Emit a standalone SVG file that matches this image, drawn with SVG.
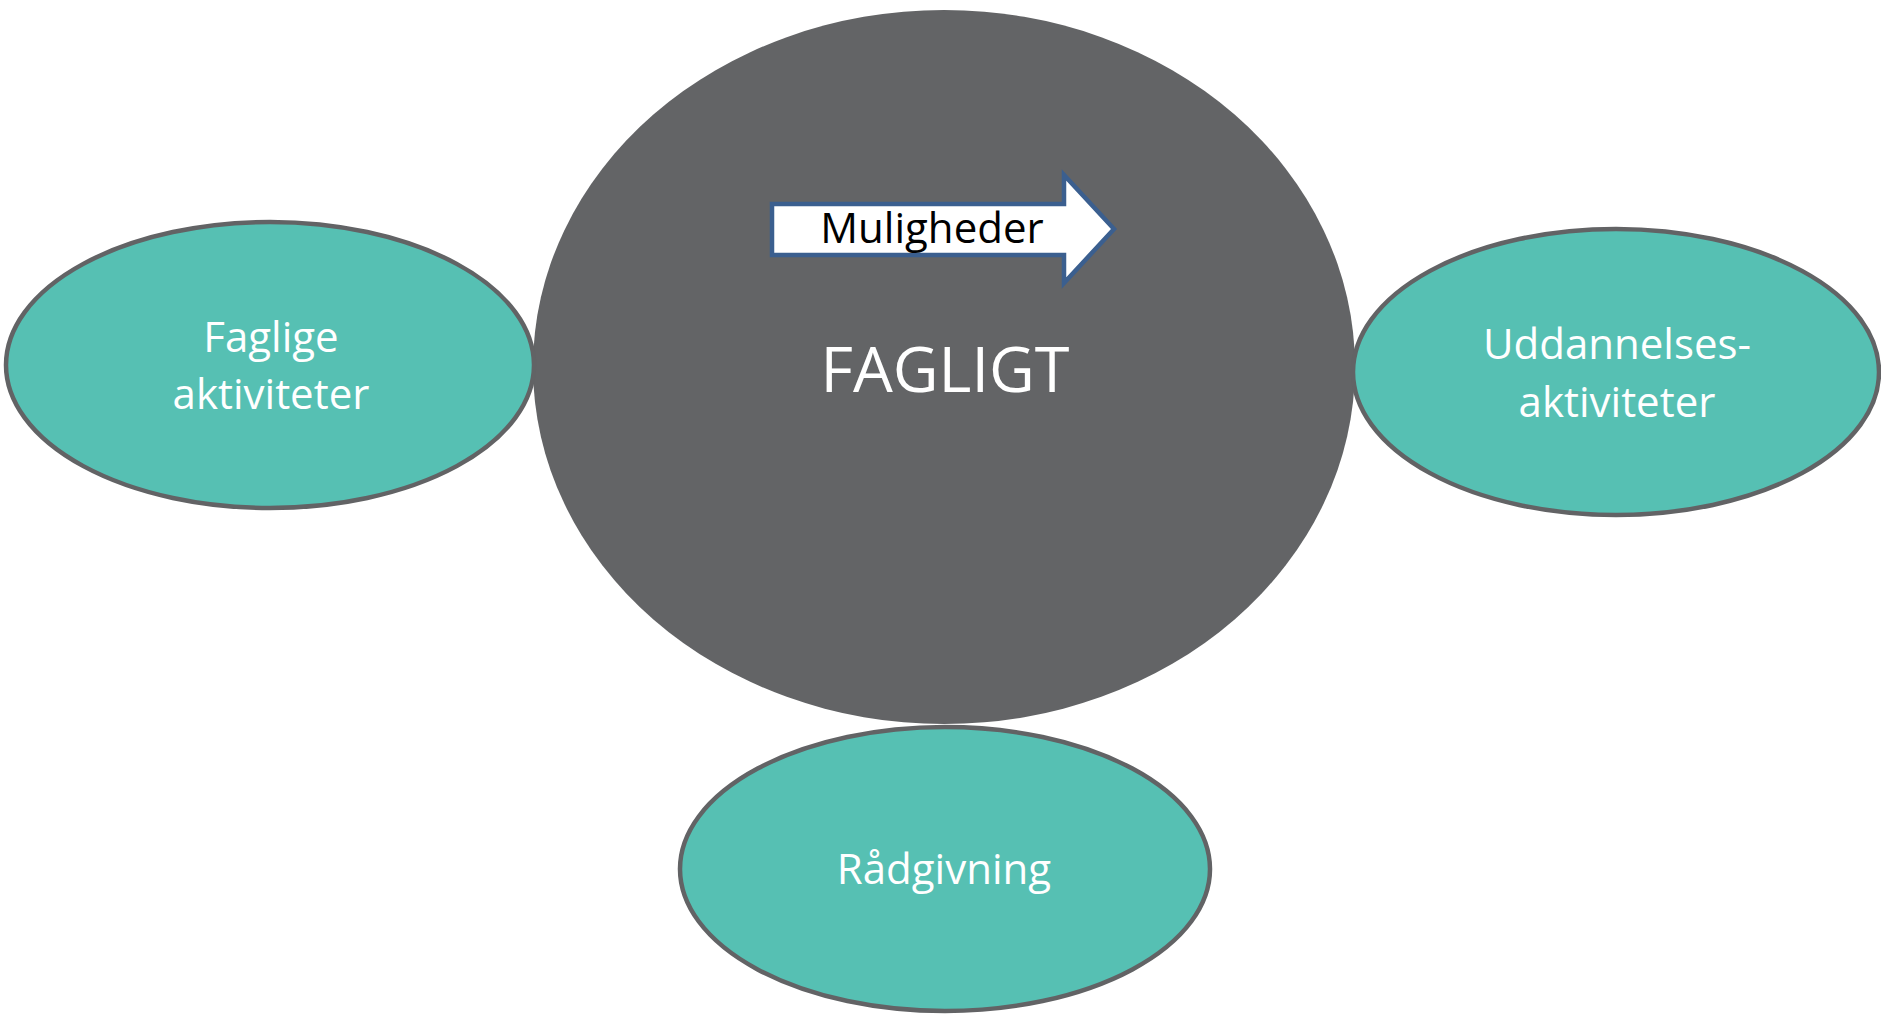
<svg xmlns="http://www.w3.org/2000/svg" width="1881" height="1014" viewBox="0 0 1881 1014">
<style>
.bub{fill:#56c0b3;stroke:#626365;stroke-width:4.5}
.lbl{font-family:"Open Sans","Liberation Sans",sans-serif;fill:#ffffff;text-anchor:middle}
</style>
<rect x="0" y="0" width="1881" height="1014" fill="#ffffff"/>
<g id="node-fagligt">
<ellipse cx="944" cy="367" rx="411" ry="357" fill="#636466"/>
<text class="lbl" x="945" y="392" font-size="63">FAGLIGT</text>
</g>
<g id="node-faglige">
<ellipse class="bub" cx="270" cy="365" rx="264" ry="143"/>
<text class="lbl" x="271" y="352" font-size="42">Faglige</text>
<text class="lbl" x="271" y="409" font-size="42">aktiviteter</text>
</g>
<g id="node-uddannelses">
<ellipse class="bub" cx="1616" cy="372" rx="263" ry="143"/>
<text class="lbl" x="1617" y="359" font-size="42">Uddannelses-</text>
<text class="lbl" x="1617" y="417" font-size="42">aktiviteter</text>
</g>
<g id="node-raadgivning">
<ellipse class="bub" cx="945" cy="869" rx="265" ry="142"/>
<text class="lbl" x="944" y="884" font-size="42">Rådgivning</text>
</g>
<g id="connectors">
<g id="arrow-muligheder">
<polygon points="772,204 1064,204 1064,175 1114,229 1064,283 1064,255 772,255" fill="#ffffff" stroke="#3b5f8f" stroke-width="4.5"/>
<text x="932" y="243" font-family="'Open Sans','Liberation Sans',sans-serif" font-size="42" fill="#000000" text-anchor="middle">Muligheder</text>
</g>
</g>
</svg>
